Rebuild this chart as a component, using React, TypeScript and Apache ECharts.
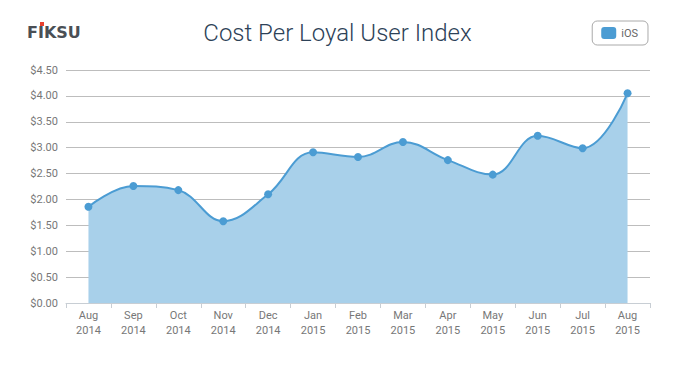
import React, { useEffect, useRef } from "react";
import * as echarts from "echarts";

const months = ["Aug", "Sep", "Oct", "Nov", "Dec", "Jan", "Feb", "Mar", "Apr", "May", "Jun", "Jul", "Aug"];
const years = ["2014", "2014", "2014", "2014", "2014", "2015", "2015", "2015", "2015", "2015", "2015", "2015", "2015"];
const categories = months.map((m, i) => `${m}\n${years[i]}`);
const iosValues = [1.86, 2.26, 2.18, 1.58, 2.1, 2.91, 2.82, 3.11, 2.76, 2.48, 3.23, 2.99, 4.05];

export default function App() {
  const ref = useRef<HTMLDivElement>(null);
  useEffect(() => {
    if (!ref.current) return;
    const chart = echarts.init(ref.current, undefined, { renderer: "svg" });
    chart.setOption({
      animation: false,
      backgroundColor: "#ffffff",
      textStyle: { fontFamily: "Roboto" },
      title: {
        text: "Cost Per Loyal User Index",
        left: "center",
        top: 16,
        textStyle: { fontSize: 24, fontWeight: 300, color: "#2d4258", fontFamily: "Roboto" },
      },
      graphic: [
        {
          type: "text",
          left: 27,
          top: 24,
          style: { text: "FIKSU", fontSize: 16, fontWeight: "bold", fill: "#4a4f55", fontFamily: "DejaVu Sans" },
        },
        {
          type: "rect",
          left: 40,
          top: 22,
          shape: { width: 4, height: 4 },
          style: { fill: "#e8402f" },
        },
      ],
      legend: {
        right: 27,
        top: 21,
        data: ["iOS"],
        itemWidth: 15,
        itemHeight: 12,
        itemGap: 6,
        padding: [6, 10, 6, 9],
        borderColor: "#aaaaaa",
        borderWidth: 1,
        borderRadius: 5,
        icon: "roundRect",
        textStyle: { fontSize: 11, color: "#666666" },
      },
      grid: { left: 66, right: 25, top: 70, bottom: 66 },
      xAxis: {
        type: "category",
        data: categories,
        boundaryGap: true,
        axisLine: { lineStyle: { color: "#c8ced4" } },
        axisTick: { show: true, length: 5, lineStyle: { color: "#c8ced4" } },
        axisLabel: { color: "#777777", fontSize: 11, lineHeight: 15, margin: 5, interval: 0 },
      },
      yAxis: {
        type: "value",
        min: 0,
        max: 4.5,
        interval: 0.5,
        axisLine: { show: false },
        axisTick: { show: false },
        splitLine: { lineStyle: { color: "#bdbdbd" } },
        axisLabel: { color: "#777777", fontSize: 11, margin: 8, formatter: (v: number) => "$" + v.toFixed(2) },
      },
      series: [
        {
          name: "iOS",
          type: "line",
          data: iosValues,
          smooth: 0.4,
          symbol: "circle",
          symbolSize: 8,
          itemStyle: { color: "#4b9cd3" },
          lineStyle: { color: "#4b9cd3", width: 2 },
          areaStyle: { color: "#a8d0ea", opacity: 1 },
        },
      ],
    });
    return () => chart.dispose();
  }, []);
  return <div ref={ref} style={{ width: 675, height: 369, position: "absolute", left: 0, top: 0 }} />;
}
